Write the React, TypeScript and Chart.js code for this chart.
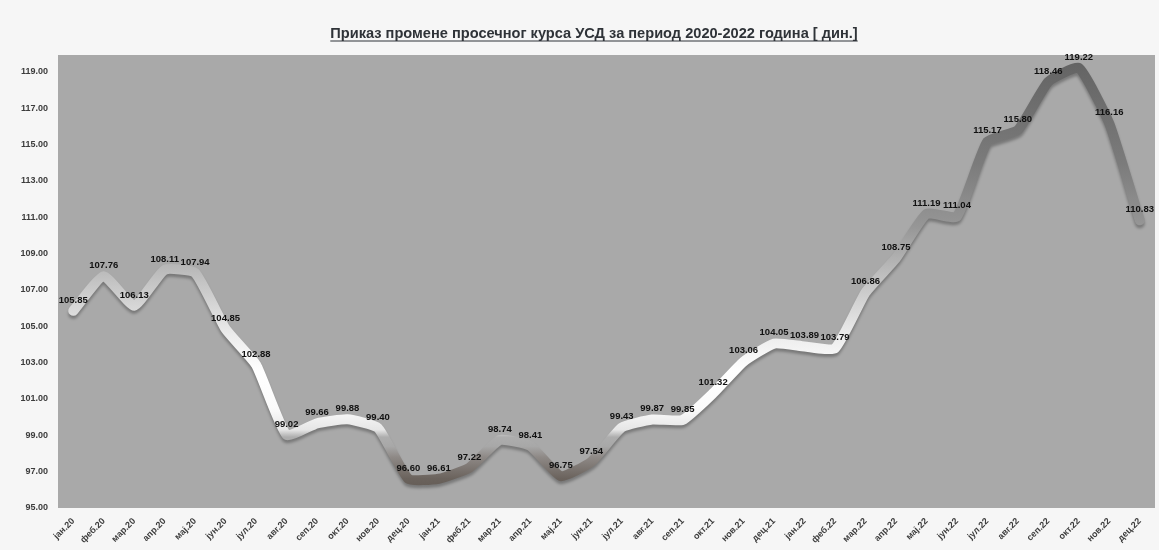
import React, { useEffect, useRef } from "react";
import { Chart, registerables } from "chart.js";

Chart.register(...registerables);

const titleText = "Приказ промене просечног курса УСД за период 2020-2022 година [ дин.]";

const categories = [
  "јан.20", "феб.20", "мар.20", "апр.20", "мај.20", "јун.20", "јул.20", "авг.20", "сеп.20", "окт.20", "нов.20", "дец.20",
  "јан.21", "феб.21", "мар.21", "апр.21", "мај.21", "јун.21", "јул.21", "авг.21", "сеп.21", "окт.21", "нов.21", "дец.21",
  "јан.22", "феб.22", "мар.22", "апр.22", "мај.22", "јун.22", "јул.22", "авг.22", "сеп.22", "окт.22", "нов.22", "дец.22",
];

const usdRates = [
  105.85, 107.76, 106.13, 108.11, 107.94, 104.85, 102.88, 99.02, 99.66, 99.88, 99.40, 96.60,
  96.61, 97.22, 98.74, 98.41, 96.75, 97.54, 99.43, 99.87, 99.85, 101.32, 103.06, 104.05,
  103.89, 103.79, 106.86, 108.75, 111.19, 111.04, 115.17, 115.80, 118.46, 119.22, 116.16, 110.83,
];

const yTickValues = [95, 97, 99, 101, 103, 105, 107, 109, 111, 113, 115, 117, 119];

// value -> ribbon colour along the rate axis
const ribbonStops: [number, string][] = [
  [95, "#5a524c"],
  [96.6, "#6a625c"],
  [97.8, "#8e8986"],
  [98.4, "#a8a8a8"],
  [98.9, "#adadad"],
  [99.3, "#e6e6e6"],
  [100.5, "#fbfbfb"],
  [102.5, "#ffffff"],
  [104.5, "#ececec"],
  [107.5, "#c3c3c3"],
  [110.5, "#969696"],
  [114, "#7b7b7b"],
  [119.5, "#646464"],
];

const FONT = "'Liberation Sans', Arial, sans-serif";

const plotBackground = {
  id: "plotBackground",
  beforeDraw(chart: any) {
    const { ctx, chartArea } = chart;
    ctx.save();
    ctx.fillStyle = "#a9a9a9";
    ctx.fillRect(chartArea.left, chartArea.top, chartArea.right - chartArea.left, chartArea.bottom - chartArea.top);
    ctx.restore();
  },
};

const underlinedTitle = {
  id: "underlinedTitle",
  afterDraw(chart: any) {
    const { ctx } = chart;
    ctx.save();
    ctx.font = `bold 14.6px ${FONT}`;
    ctx.fillStyle = "#2f3338";
    ctx.textAlign = "center";
    ctx.textBaseline = "alphabetic";
    const cx = 594;
    const y = 38;
    ctx.fillText(titleText, cx, y);
    const w = ctx.measureText(titleText).width;
    ctx.strokeStyle = "#2f3338";
    ctx.lineWidth = 1.2;
    ctx.beginPath();
    ctx.moveTo(cx - w / 2, y + 3);
    ctx.lineTo(cx + w / 2, y + 3);
    ctx.stroke();
    ctx.restore();
  },
};

const valueLabels = {
  id: "valueLabels",
  afterDatasetsDraw(chart: any) {
    const { ctx } = chart;
    const meta = chart.getDatasetMeta(0);
    const data = chart.data.datasets[0].data as number[];
    ctx.save();
    ctx.font = `bold 9.5px ${FONT}`;
    ctx.fillStyle = "#111111";
    ctx.textAlign = "center";
    ctx.textBaseline = "bottom";
    meta.data.forEach((pt: any, i: number) => {
      ctx.fillText(data[i].toFixed(2), pt.x, pt.y - 6);
    });
    ctx.restore();
  },
};

const ribbonShadow = {
  id: "ribbonShadow",
  beforeDatasetDraw(chart: any) {
    const { ctx } = chart;
    ctx.save();
    ctx.shadowColor = "rgba(60,60,60,0.45)";
    ctx.shadowBlur = 3;
    ctx.shadowOffsetY = 3;
  },
  afterDatasetDraw(chart: any) {
    chart.ctx.restore();
  },
};

export default function App() {
  const canvasRef = useRef<HTMLCanvasElement | null>(null);

  useEffect(() => {
    const canvas = canvasRef.current;
    if (!canvas) return;
    const chart = new Chart(canvas, {
      type: "line",
      data: {
        labels: categories,
        datasets: [
          {
            data: usdRates,
            borderWidth: 10,
            borderJoinStyle: "round",
            borderCapStyle: "round",
            pointRadius: 0,
            tension: 0.15,
            borderColor: (context: any) => {
              const c = context.chart;
              const y = c.scales?.y;
              if (!c.chartArea || !y) return "#ffffff";
              const top = y.getPixelForValue(119.5);
              const bottom = y.getPixelForValue(95);
              const g = c.ctx.createLinearGradient(0, bottom, 0, top);
              ribbonStops.forEach(([v, col]) => {
                g.addColorStop((v - 95) / (119.5 - 95), col);
              });
              return g;
            },
          },
        ],
      },
      options: {
        responsive: true,
        maintainAspectRatio: false,
        animation: false,
        layout: { padding: { top: 55, right: 4, left: 0, bottom: 0 } },
        plugins: {
          legend: { display: false },
          title: { display: false },
          tooltip: { enabled: false },
        },
        scales: {
          x: {
            offset: true,
            grid: { display: false, drawTicks: false },
            border: { display: false },
            ticks: {
              autoSkip: false,
              minRotation: 45,
              maxRotation: 45,
              padding: 8,
              color: "#3c3c3c",
              font: { family: FONT, size: 9, weight: "bold" },
            },
            afterFit(scale: any) {
              scale.height = 42;
            },
          },
          y: {
            min: 95,
            max: 119.93,
            grid: { display: false, drawTicks: false },
            border: { display: false },
            afterBuildTicks(scale: any) {
              scale.ticks = yTickValues.map((v) => ({ value: v }));
            },
            ticks: {
              padding: 10,
              color: "#3c3c3c",
              font: { family: FONT, size: 9, weight: "bold" },
              callback: (v: any) => Number(v).toFixed(2),
            },
            afterFit(scale: any) {
              scale.width = 58;
            },
          },
        },
      },
      plugins: [plotBackground, ribbonShadow, valueLabels, underlinedTitle],
    });
    return () => chart.destroy();
  }, []);

  return (
    <div
      style={{
        position: "fixed",
        left: 0,
        top: 0,
        width: 1159,
        height: 550,
        background: "#f6f6f6",
      }}
    >
      <canvas ref={canvasRef} />
    </div>
  );
}
